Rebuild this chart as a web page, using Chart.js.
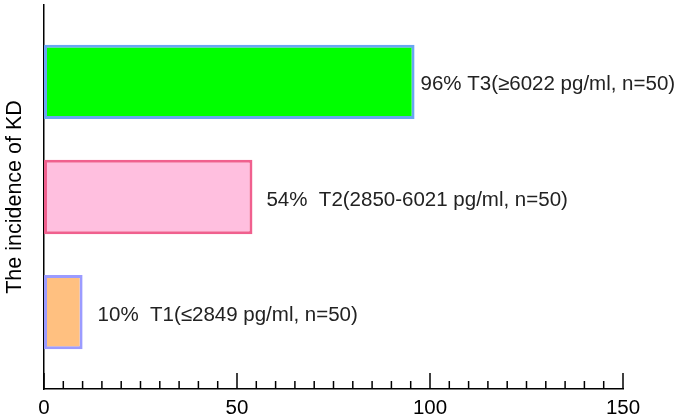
<!DOCTYPE html>
<html>
<head>
<meta charset="utf-8">
<script src="https://cdn.jsdelivr.net/npm/chart.js@4"></script>
<style>
  html, body { margin: 0; padding: 0; background: #fff; }
  #wrap { width: 685px; height: 418px; }
</style>
</head>
<body>
<div id="wrap"><canvas id="grafico"></canvas></div>
<script>
// ------------------ datos ------------------
const grupos = ["T1(≤2849 pg/ml, n=50)", "T2(2850-6021 pg/ml, n=50)", "T3(≥6022 pg/ml, n=50)"];
const incidencia = [10, 54, 96];
const posiciones = [0, 1, 2];
const separador = ["  ", "  ", " "];
const ticksX = [0, 50, 100, 150];

// ------------------ estilos ------------------
const relleno = ["#ffc080", "#ffbfdf", "#00ff00"];
const borde = ["#9b9bff", "#f0608e", "#6aa6f2"];
const desplazamiento = [15, 14, 6];

const fuente = "Liberation Sans, Arial, sans-serif";

// ------------------ plugins ------------------
// ticks hacia adentro en el eje x
const ticksInternos = {
    id: "ticksInternos",
    afterDraw(chart) {
        const ctx = chart.ctx;
        const x = chart.scales.x;
        const base = x.top;
        ctx.save();
        ctx.strokeStyle = "#000";
        ctx.lineWidth = 1.5;
        for (let v = 0; v <= 150; v += 5) {
            const px = x.getPixelForValue(v);
            const largo = ticksX.includes(v) ? 16 : 8;
            ctx.beginPath();
            ctx.moveTo(px, base);
            ctx.lineTo(px, base - largo);
            ctx.stroke();
        }
        ctx.restore();
    },
};

// etiquetas al lado de cada barra
const etiquetas = {
    id: "etiquetas",
    afterDatasetsDraw(chart) {
        const ctx = chart.ctx;
        const meta = chart.getDatasetMeta(0);
        ctx.save();
        ctx.font = "20.5px " + fuente;
        ctx.fillStyle = "#222";
        ctx.textBaseline = "middle";
        meta.data.forEach((bar, i) => {
            ctx.fillText(incidencia[i] + "%" + separador[i] + grupos[i], bar.x + desplazamiento[i], bar.y + 3);
        });
        ctx.restore();
    },
};

// ------------------ grafico ------------------
const ctx = document.getElementById("grafico").getContext("2d");
const grafico = new Chart(ctx, {
    type: "bar",
    data: {
        datasets: [
            {
                data: posiciones.map((p, i) => ({ x: incidencia[i], y: p })),
                backgroundColor: relleno,
                borderColor: borde,
                borderWidth: 3,
                borderSkipped: false,
                barPercentage: 0.645,
                categoryPercentage: 1,
            },
        ],
    },
    options: {
        indexAxis: "y",
        responsive: true,
        maintainAspectRatio: false,
        animation: false,
        layout: { padding: { top: 5, right: 62, left: 0, bottom: 0 } },
        plugins: { legend: { display: false }, tooltip: { enabled: false } },
        scales: {
            x: {
                type: "linear",
                min: 0,
                max: 150,
                afterBuildTicks(scale) {
                    scale.ticks = ticksX.map((v) => ({ value: v }));
                },
                afterFit(scale) {
                    scale.height = 29;
                },
                ticks: {
                    color: "#000",
                    font: { family: fuente, size: 20.5 },
                    padding: 7,
                },
                grid: { display: false, drawTicks: false },
                border: { display: true, color: "#000", width: 1.5 },
            },
            y: {
                type: "linear",
                offset: false,
                min: -0.667,
                max: 2.667,
                afterBuildTicks(scale) {
                    scale.ticks = posiciones.map((v) => ({ value: v }));
                },
                ticks: { display: false },
                grid: { display: false, drawTicks: false, offset: false },
                border: { display: true, color: "#000", width: 1.5 },
                title: {
                    display: true,
                    text: "The incidence of KD",
                    color: "#000",
                    font: { family: fuente, size: 21.5 },
                    padding: { top: 2, bottom: 0 },
                },
                afterFit(scale) {
                    scale.width = 44;
                },
            },
        },
    },
    plugins: [ticksInternos, etiquetas],
});
</script>
</body>
</html>
